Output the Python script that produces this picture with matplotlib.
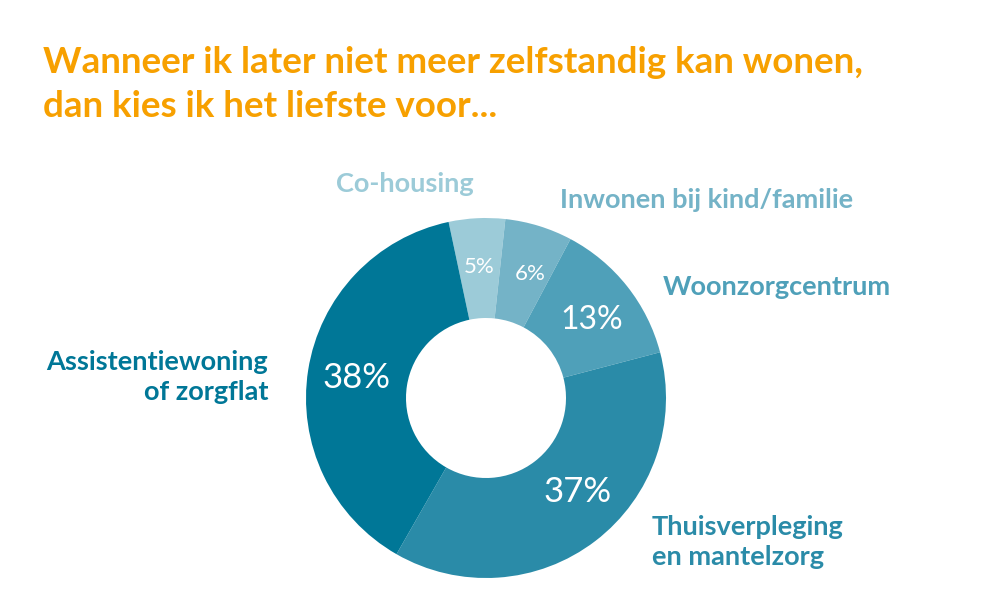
import matplotlib
matplotlib.use('Agg')
import matplotlib.pyplot as plt
import numpy as np

# data, clockwise from the top
categories = ['Co-housing', 'Inwonen bij kind/familie', 'Woonzorgcentrum',
              'Thuisverpleging\nen mantelzorg', 'Assistentiewoning\nof zorgflat']
values = [5, 6, 13, 37, 38]
colors = ['#9ccbd8', '#74b3c7', '#4fa0b9', '#2a8ba8', '#007797']

title_lines = ['Wanneer ik later niet meer zelfstandig kan wonen,',
               'dan kies ik het liefste voor...']

W, H = 1000, 616
plt.rcParams['font.family'] = ['Lato', 'DejaVu Sans']

fig = plt.figure(figsize=(W / 100, H / 100), dpi=100, facecolor='white')

# donut: centre (486, 398) px, outer radius 180 px, inner radius 80 px
cx, cy, R = 486, 398, 180
ax = fig.add_axes([(cx - R) / W, (H - cy - R) / H, 2 * R / W, 2 * R / H])
wedges, _ = ax.pie(values, colors=colors, startangle=102, counterclock=False,
                   radius=1.0, wedgeprops=dict(width=100 / 180, linewidth=0))
ax.set_xlim(-1, 1)
ax.set_ylim(-1, 1)
ax.set_aspect('equal')
ax.axis('off')

# percentage labels in the ring
total = float(sum(values))
pct_sizes = [16, 16, 23, 25, 25]
pct_shift = [0, -2.5, -2, 7, 0]  # degrees, small manual nudges
theta = 102.0
for v, fs, sh in zip(values, pct_sizes, pct_shift):
    span = 360.0 * v / total
    mid = np.deg2rad(theta - span / 2 + sh)
    ax.text(0.73 * np.cos(mid), 0.73 * np.sin(mid), '%d%%' % v, color='white',
            fontsize=fs, ha='center', va='center')
    theta -= span


def px(x, y):
    return x / W, 1 - y / H


# title
fig.text(*px(43, 73), title_lines[0], color='#f7a000', fontsize=26.5,
         fontweight='bold', ha='left', va='baseline')
fig.text(*px(43, 117), title_lines[1], color='#f7a000', fontsize=26.5,
         fontweight='bold', ha='left', va='baseline')

# category labels
lab = dict(fontsize=19.5, fontweight='bold', va='baseline', linespacing=1.3)
fig.text(*px(336, 192), categories[0], color=colors[0], ha='left', **lab)
fig.text(*px(560, 208), categories[1], color=colors[1], ha='left', **lab)
fig.text(*px(663, 295), categories[2], color=colors[2], ha='left', **lab)
fig.text(*px(652, 565), categories[3], color=colors[3], ha='left', **lab)
fig.text(*px(268, 400), categories[4], color=colors[4], ha='right',
         multialignment='right', **lab)

fig.savefig('out.png', dpi=100, facecolor='white')
